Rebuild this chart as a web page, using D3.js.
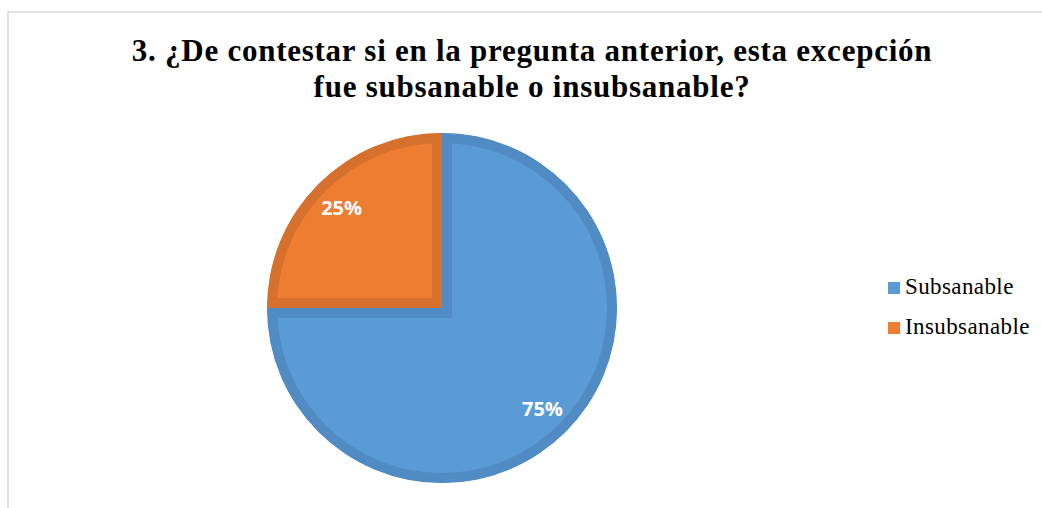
<!DOCTYPE html>
<html><head><meta charset="utf-8">
<script src="https://cdn.jsdelivr.net/npm/d3@7"></script>
<style>html,body{margin:0;padding:0;background:#fff;}svg{display:block;}</style>
</head><body>
<svg id="chart" width="1042" height="508"></svg>
<script>
const categories = ["Subsanable", "Insubsanable"];
const values = [75, 25];
const valueLabels = ["75%", "25%"];
const titleLines = ["3. ¿De contestar si en la pregunta anterior, esta excepción", "fue subsanable o insubsanable?"];

const fills = ["#5B9BD5", "#ED7D31"];
const strokes = ["#508BC3", "#D6702D"];

const svg = d3.select("#chart");
// frame
svg.append("rect").attr("x", 8).attr("y", 12).attr("width", 1100).attr("height", 600)
  .attr("fill", "none").attr("stroke", "#D9D9D9").attr("stroke-width", 1.5);

// title
svg.append("text").attr("text-anchor", "middle")
  .attr("font-family", "'Liberation Serif', 'Times New Roman', serif")
  .attr("font-weight", "bold").attr("font-size", 31).attr("fill", "#000")
  .attr("letter-spacing", 0.75)
  .selectAll("tspan").data(titleLines).join("tspan")
  .attr("x", 532).attr("y", (d, i) => 61 + i * 36).text(d => d);

const cx = 442, cy = 308, r = 175, bw = 10;
const pie = d3.pie().sort(null).value(d => d.v);
const arcs = pie(categories.map((c, i) => ({c, v: values[i], l: valueLabels[i], i})));
const arc = d3.arc().innerRadius(0).outerRadius(r);
const labelArc = d3.arc().innerRadius(142).outerRadius(142);

const g = svg.append("g").attr("transform", `translate(${cx},${cy})`);
const defs = svg.append("defs");
arcs.forEach((a, k) => {
  defs.append("clipPath").attr("id", "clip" + k).append("path").attr("d", arc(a));
});
g.selectAll("path.slice").data(arcs).join("path").attr("class", "slice")
  .attr("d", arc)
  .attr("fill", d => fills[d.data.i])
  .attr("stroke", d => strokes[d.data.i])
  .attr("stroke-width", bw * 2)
  .attr("stroke-linejoin", "miter")
  .attr("clip-path", (d, k) => `url(#clip${k})`);

// value labels
g.selectAll("text.lbl").data(arcs).join("text").attr("class", "lbl")
  .attr("x", d => labelArc.centroid(d)[0])
  .attr("y", d => labelArc.centroid(d)[1])
  .attr("dy", "0.36em")
  .attr("text-anchor", "middle")
  .attr("font-family", "'Open Sans', 'Liberation Sans', sans-serif")
  .attr("font-weight", "bold").attr("font-size", 20).attr("fill", "#fff")
  .text(d => d.data.l);

// legend
const lg = svg.append("g");
const items = lg.selectAll("g").data(categories).join("g")
  .attr("transform", (d, i) => `translate(888,${282 + i * 40})`);
items.append("rect").attr("width", 12).attr("height", 12).attr("fill", (d, i) => fills[i]);
items.append("text").attr("x", 17).attr("y", 12)
  .attr("font-family", "'Liberation Serif', 'Times New Roman', serif")
  .attr("font-size", 23).attr("letter-spacing", 0.4).attr("fill", "#000").text(d => d);
</script>
</body></html>
